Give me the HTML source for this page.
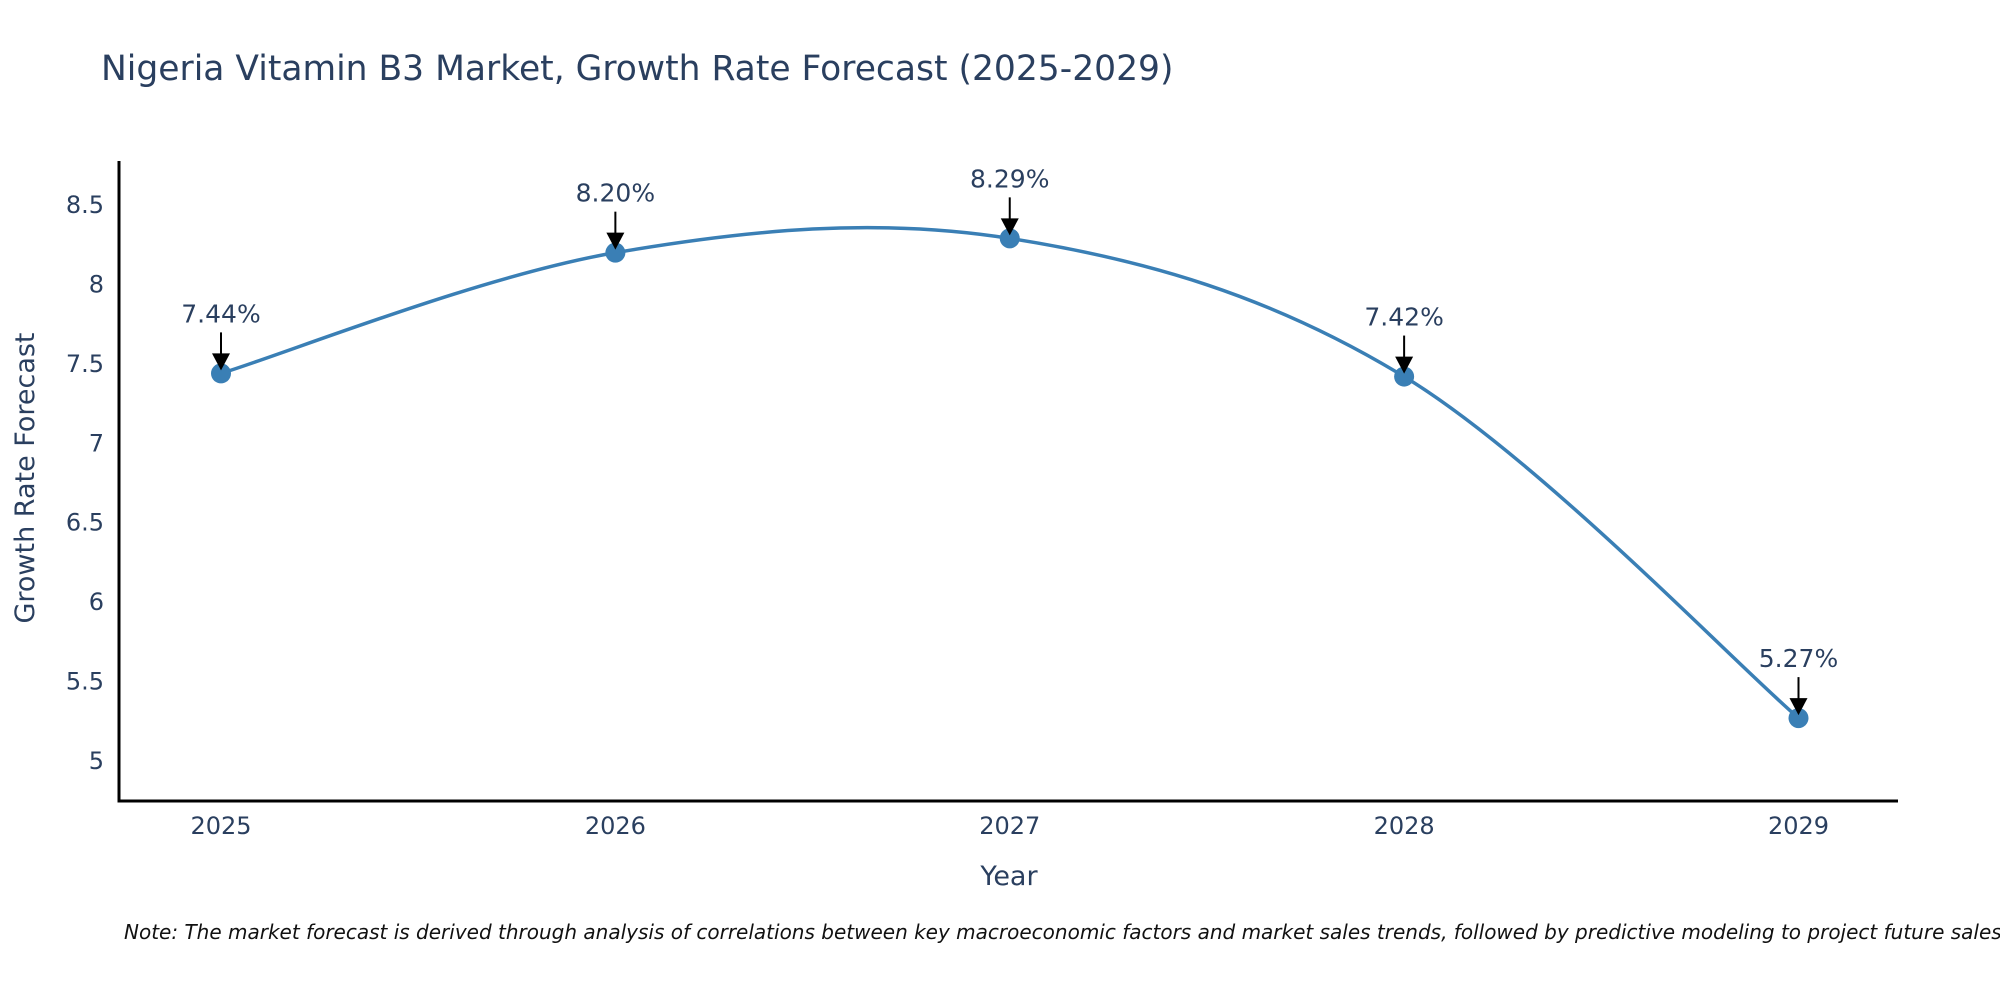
<!DOCTYPE html>
<html><head><meta charset="utf-8">
<style>
html,body{margin:0;padding:0;background:#fff;}
svg{display:block;font-family:"DejaVu Sans","Liberation Sans",sans-serif;}
</style></head>
<body>
<svg id="chart" width="2000" height="1000" viewBox="0 0 2000 1000" xmlns="http://www.w3.org/2000/svg">
<text x="101" y="80" font-size="34.5" fill="#2a3f5f">Nigeria Vitamin B3 Market, Growth Rate Forecast (2025-2029)</text>
<g id="yticks"></g>
<g id="xticks"></g>
<g id="series"></g>
<g id="annots"></g>
<line x1="119" y1="161" x2="119" y2="802" stroke="#000" stroke-width="3"/>
<line x1="117.5" y1="801" x2="1898" y2="801" stroke="#000" stroke-width="3"/>
<text transform="translate(34,478) rotate(-90)" text-anchor="middle" font-size="27" fill="#2a3f5f">Growth Rate Forecast</text>
<text x="1009" y="885" text-anchor="middle" font-size="27" fill="#2a3f5f">Year</text>
<text x="124" y="939" font-size="20" font-style="italic" fill="#111">Note: The market forecast is derived through analysis of correlations between key macroeconomic factors and market sales trends, followed by predictive modeling to project future sales.</text>
</svg>
<script>
const categories = ["2025","2026","2027","2028","2029"];
const values = [7.44, 8.20, 8.29, 7.42, 5.27];
const valueLabels = ["7.44%","8.20%","8.29%","7.42%","5.27%"];
const yTickValues = [5, 5.5, 6, 6.5, 7, 7.5, 8, 8.5];
const yTickLabels = ["5","5.5","6","6.5","7","7.5","8","8.5"];

const NS = "http://www.w3.org/2000/svg";
function xScale(i){ return 221 + i * (1798.5 - 221) / (categories.length - 1); }
function yScale(v){ return 761 - (v - 5) * (761 - 205) / 3.5; }
function mk(tag, attrs, parent){
  const e = document.createElementNS(NS, tag);
  for (const k in attrs) e.setAttribute(k, attrs[k]);
  parent.appendChild(e); return e;
}
const yt = document.getElementById('yticks');
yTickValues.forEach((v,i)=>{
  const t = mk('text', {x:104, y:yScale(v)+8, 'text-anchor':'end', 'font-size':24, fill:'#2a3f5f'}, yt);
  
  
  t.textContent = yTickLabels[i];
});
const xt = document.getElementById('xticks');
categories.forEach((c,i)=>{
  const t = mk('text', {x:xScale(i), y:834, 'text-anchor':'middle', 'font-size':24, fill:'#2a3f5f'}, xt);
  
  
  t.textContent = c;
});
const pts = values.map((v,i)=>[xScale(i), yScale(v)]);
let d = `M${pts[0][0]},${pts[0][1]}`;
const s = 0.17;
for (let i=0;i<pts.length-1;i++){
  const p0 = pts[Math.max(i-1,0)], p1 = pts[i], p2 = pts[i+1], p3 = pts[Math.min(i+2,pts.length-1)];
  const c1 = [p1[0]+(p2[0]-p0[0])*s, p1[1]+(p2[1]-p0[1])*s];
  const c2 = [p2[0]-(p3[0]-p1[0])*s, p2[1]-(p3[1]-p1[1])*s];
  d += ` C${c1[0]},${c1[1]} ${c2[0]},${c2[1]} ${p2[0]},${p2[1]}`;
}
const sg = document.getElementById('series');
const line = mk('path', {d:d, fill:'none', stroke:'#3a7fb5', 'stroke-width':3.5}, sg);


const ag = document.getElementById('annots');
pts.forEach((p,i)=>{
  const c = mk('circle', {cx:p[0], cy:p[1], r:10, fill:'#3a7fb5'}, sg);
  
  
  const a = mk('line', {x1:p[0], y1:p[1]-41, x2:p[0], y2:p[1]-14, stroke:'#000', 'stroke-width':2}, ag);
  
  
  const h = mk('polygon', {points:`${p[0]-9},${p[1]-20} ${p[0]+9},${p[1]-20} ${p[0]},${p[1]-3}`, fill:'#000'}, ag);
  
  
  const t = mk('text', {x:p[0], y:p[1]-51, 'text-anchor':'middle', 'font-size':25, fill:'#2a3f5f'}, ag);
  
  
  t.textContent = valueLabels[i];
});
</script>
</body></html>
